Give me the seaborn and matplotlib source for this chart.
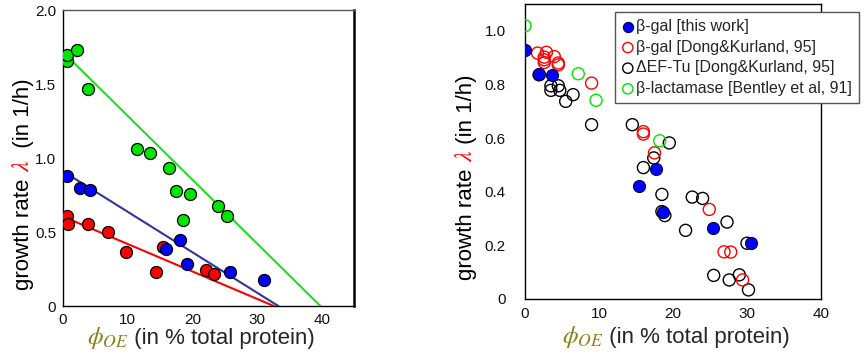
import numpy as np
import pandas as pd
import seaborn as sns
import matplotlib.pyplot as plt

# %% data - left panel (three growth media)
green_x = [0.67, 0.67, 2.2, 3.9, 11.5, 13.5, 16.4, 17.5, 19.6, 18.6, 24.0, 25.4]
green_y = [1.655, 1.696, 1.73, 1.466, 1.06, 1.033, 0.933, 0.776, 0.76, 0.58, 0.674, 0.609]
blue_x = [0.67, 2.6, 4.1, 18.1, 15.9, 19.2, 25.8, 31.1]
blue_y = [0.879, 0.794, 0.787, 0.449, 0.388, 0.286, 0.23, 0.178]
red_x = [0.67, 0.83, 3.8, 7.0, 9.7, 14.4, 15.5, 22.1, 23.4]
red_y = [0.609, 0.557, 0.555, 0.50, 0.365, 0.23, 0.40, 0.246, 0.219]

# fitted lines (end points)
green_fit_x = [1.3, 39.8]
green_fit_y = [1.66, 0.0]
blue_fit_x = [0.0, 33.3]
blue_fit_y = [0.91, 0.0]
red_fit_x = [0.78, 32.6]
red_fit_y = [0.59, 0.0]

# %% data - right panel (literature comparison)
bgal_x = [0.0, 1.9, 3.65, 15.45, 17.66, 18.65, 25.4, 30.6]
bgal_y = [0.927, 0.84, 0.835, 0.423, 0.486, 0.324, 0.264, 0.208]
dong_x = [1.7, 2.9, 2.6, 2.6, 2.6, 3.96, 4.5, 4.5, 9.0, 16.0, 16.0, 17.5, 24.9, 26.9, 27.8, 29.4]
dong_y = [0.917, 0.92, 0.902, 0.892, 0.882, 0.904, 0.873, 0.88, 0.805, 0.624, 0.615, 0.545, 0.334, 0.176, 0.175, 0.071]
eftu_x = [1.9, 3.5, 3.5, 4.5, 4.7, 5.5, 6.5, 9.0, 14.5, 17.4, 16.0, 19.5, 18.5, 18.9, 18.5,
          22.6, 24.0, 21.7, 27.3, 30.0, 25.5, 27.6, 28.96, 30.2]
eftu_y = [0.836, 0.795, 0.778, 0.795, 0.778, 0.737, 0.762, 0.65, 0.65, 0.526, 0.49, 0.582, 0.39, 0.311, 0.326,
          0.38, 0.375, 0.256, 0.287, 0.208, 0.088, 0.071, 0.09, 0.034]
bla_x = [0.0, 7.2, 9.6, 18.2]
bla_y = [1.019, 0.84, 0.741, 0.59]

x_ticks = [0, 10, 20, 30, 40]
x_ticklabels = ['0', '10', '20', '30', '40']
left_yticks = [0, 0.5, 1.0, 1.5, 2.0]
left_yticklabels = ['0', '0.5', '1.0', '1.5', '2.0']
right_yticks = [0, 0.2, 0.4, 0.6, 0.8, 1.0]
right_yticklabels = ['0', '0.2', '0.4', '0.6', '0.8', '1.0']

legend_labels = ['\u03b2-gal [this work]', '\u03b2-gal [Dong&Kurland, 95]',
                 '\u0394EF-Tu [Dong&Kurland, 95]', '\u03b2-lactamase [Bentley et al, 91]']

# %% style
sns.set_style('white')
plt.rcParams['font.family'] = ['Liberation Sans', 'DejaVu Sans']
plt.rcParams['mathtext.fontset'] = 'stix'

GREEN = '#00e600'
BLUE = '#0000ff'
RED = '#ff0000'
OLIVE = '#8c8017'
W, H = 867, 360

fig = plt.figure(figsize=(W / 100, H / 100), dpi=100)
ax1 = fig.add_axes([63 / W, 1 - 306 / H, (354 - 63) / W, (306 - 10) / H])
ax2 = fig.add_axes([525 / W, 1 - 299 / H, (821 - 525) / W, (299 - 4) / H])

# %% left panel
sns.lineplot(x=green_fit_x, y=green_fit_y, ax=ax1, color='#22dd22', lw=1.5, zorder=1)
sns.lineplot(x=blue_fit_x, y=blue_fit_y, ax=ax1, color='#33339a', lw=1.5, zorder=1)
sns.lineplot(x=red_fit_x, y=red_fit_y, ax=ax1, color=RED, lw=1.5, zorder=1)
sns.scatterplot(x=red_x, y=red_y, ax=ax1, color=RED, s=75, edgecolor='black', linewidth=0.9, zorder=3)
sns.scatterplot(x=blue_x, y=blue_y, ax=ax1, color=BLUE, s=75, edgecolor='black', linewidth=0.9, zorder=3)
sns.scatterplot(x=green_x, y=green_y, ax=ax1, color=GREEN, s=75, edgecolor='black', linewidth=0.9, zorder=3)

ax1.set_xlim(0, 45)
ax1.set_ylim(0, 2.0)
ax1.set_xticks(x_ticks, x_ticklabels)
ax1.set_yticks(left_yticks, left_yticklabels)
ax1.tick_params(length=0, labelsize=11, colors='#111111')
ax1.tick_params(axis='y', pad=5)
ax1.tick_params(axis='x', pad=5)
for side, sp in ax1.spines.items():
    sp.set_color('black')
    sp.set_linewidth(1.0)
ax1.spines['right'].set_linewidth(1.8)
ax1.spines['top'].set_color('#555555')

# %% right panel
sns.scatterplot(x=eftu_x, y=eftu_y, ax=ax2, s=75, facecolors='none', edgecolor='black', linewidth=1.0,
                label=legend_labels[2], zorder=2)
sns.scatterplot(x=dong_x, y=dong_y, ax=ax2, s=75, facecolors='none', edgecolor=RED, linewidth=1.0,
                label=legend_labels[1], zorder=3)
sns.scatterplot(x=bla_x, y=bla_y, ax=ax2, s=75, facecolors='none', edgecolor=GREEN, linewidth=1.0,
                label=legend_labels[3], zorder=3)
sns.scatterplot(x=bgal_x, y=bgal_y, ax=ax2, color=BLUE, s=75, edgecolor='#000044', linewidth=0.8,
                label=legend_labels[0], zorder=4)

ax2.set_xlim(0, 40)
ax2.set_ylim(0, 1.1)
ax2.set_xticks(x_ticks, x_ticklabels)
ax2.set_yticks(right_yticks, right_yticklabels)
ax2.tick_params(length=0, labelsize=11, colors='#111111')
ax2.tick_params(axis='y', pad=14)
ax2.tick_params(axis='x', pad=6)
for sp in ax2.spines.values():
    sp.set_color('black')
    sp.set_linewidth(1.0)

handles, labels = ax2.get_legend_handles_labels()
order = [labels.index(l) for l in legend_labels]
leg = ax2.legend([handles[i] for i in order], [labels[i] for i in order],
                 loc='upper left', bbox_to_anchor=(615 / W, 1 - 12 / H), bbox_transform=fig.transFigure,
                 borderaxespad=0, fontsize=11.5, frameon=True, fancybox=False, framealpha=1,
                 edgecolor='#555555', handlelength=0.7, handletextpad=0.15, labelspacing=0.35,
                 borderpad=0.45, markerscale=0.85)
leg.get_frame().set_linewidth(1.0)

# %% multi-coloured axis labels (pieces chained one after another)
fig.canvas.draw()
renderer = fig.canvas.get_renderer()


def xlabel(x0, y0):
    t = fig.text(x0 / W, y0 / H, r'$\phi_{OE}$', color=OLIVE, fontsize=18, ha='left', va='baseline')
    bb = t.get_window_extent(renderer)
    fig.text(bb.x1 / W, y0 / H, ' (in % total protein)', fontsize=16, ha='left', va='baseline')


def ylabel(x0, y0, gap):
    pieces = [('growth rate ', 'black', 16), ('$\\lambda$', RED, 17), (gap + '(in 1/h)', 'black', 16)]
    y = y0
    for txt, col, fs in pieces:
        t = fig.text(x0 / W, y / H, txt, color=col, fontsize=fs, rotation=90,
                     rotation_mode='anchor', ha='left', va='baseline')
        y = t.get_window_extent(renderer).y1


xlabel(87, 16)
xlabel(562, 17)
ylabel(29, 70, '  ')
ylabel(472, 80, ' ')

fig.savefig('out.png', dpi=100)
